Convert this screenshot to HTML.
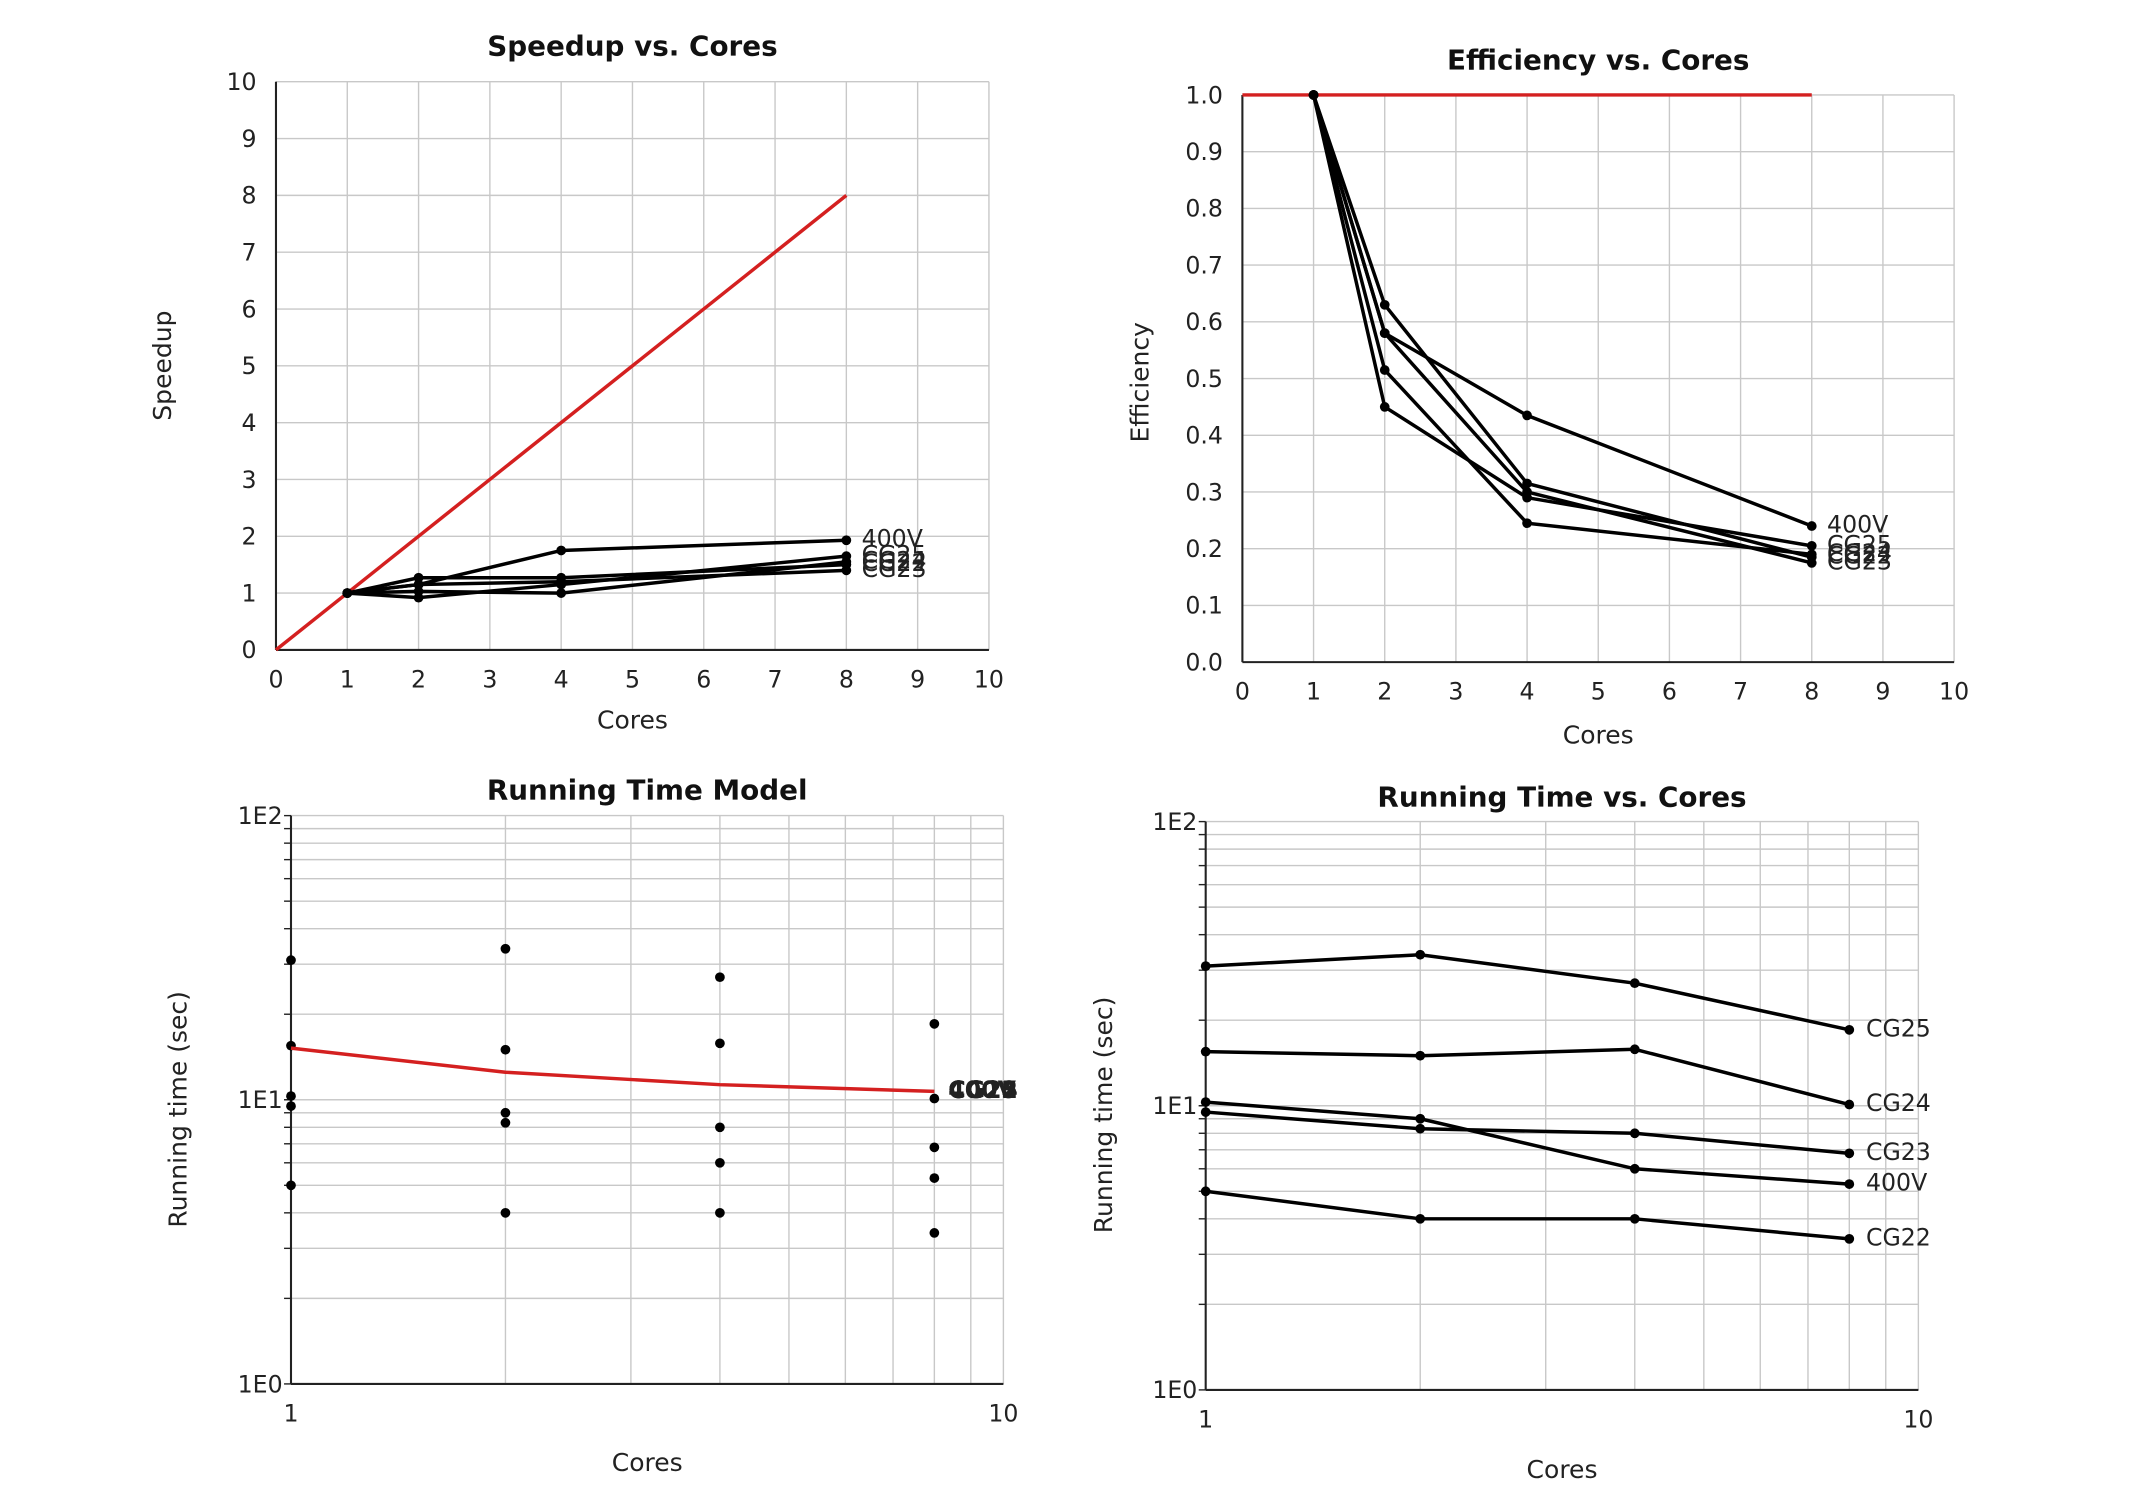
<!DOCTYPE html>
<html><head><meta charset="utf-8"><style>
html,body{margin:0;padding:0;background:#fff;}
svg{display:block;font-family:"DejaVu Sans","Liberation Sans",sans-serif;}
</style></head><body>
<svg id="chart" width="2155" height="1500" viewBox="0 0 1550 1079" preserveAspectRatio="none" xmlns="http://www.w3.org/2000/svg"></svg>
<script>
const cores = [1, 2, 4, 8];
const seriesNames = ["400V", "CG25", "CG24", "CG23", "CG22"];
const speedup400V = [1, 1.15, 1.75, 1.93];
const speedupCG25 = [1, 0.92, 1.15, 1.65];
const speedupCG24 = [1, 1.03, 1.0, 1.55];
const speedupCG23 = [1, 1.15, 1.2, 1.4];
const speedupCG22 = [1, 1.27, 1.27, 1.5];
const ideal = [0, 8];
const eff400V = [1, 0.58, 0.435, 0.24];
const effCG25 = [1, 0.45, 0.29, 0.205];
const effCG24 = [1, 0.515, 0.245, 0.19];
const effCG23 = [1, 0.58, 0.30, 0.175];
const effCG22 = [1, 0.63, 0.315, 0.185];
const time400V = [10.3, 9.0, 6.0, 5.3];
const timeCG25 = [31, 34, 27, 18.5];
const timeCG24 = [15.5, 15.0, 15.8, 10.1];
const timeCG23 = [9.5, 8.3, 8.0, 6.8];
const timeCG22 = [5.0, 4.0, 4.0, 3.4];
const modelTime = [15.2, 12.5, 11.3, 10.7];
const linTicks = [0,1,2,3,4,5,6,7,8,9,10];
const effTicks = ["0.0","0.1","0.2","0.3","0.4","0.5","0.6","0.7","0.8","0.9","1.0"];

const svg = document.getElementById('chart');
const NS = 'http://www.w3.org/2000/svg';
function el(tag, attrs, parent, text){
  const e = document.createElementNS(NS, tag);
  for (const k in attrs) e.setAttribute(k, attrs[k]);
  if (text !== undefined) e.textContent = text;
  (parent || svg).appendChild(e);
  return e;
}
function linScale(d0,d1,r0,r1){return v=>r0+(v-d0)/(d1-d0)*(r1-r0);}
function logScale(d0,d1,r0,r1){return v=>r0+(Math.log10(v)-Math.log10(d0))/(Math.log10(d1)-Math.log10(d0))*(r1-r0);}

function frame(name, x0,x1,y0,y1,title,ty,ylab,ylx,yly,xlabY){
  const g = el('g',{});
  
  
  const t = el('text',{x:(x0+x1)/2,y:ty,'text-anchor':'middle','font-size':20,'font-weight':'bold',fill:'#111'},g,title);
  
  
  const yl = el('text',{x:ylx,y:yly,'text-anchor':'middle','font-size':18,fill:'#222',transform:`rotate(-90 ${ylx} ${yly})`},g,ylab);
  
  
  const xl = el('text',{x:(x0+x1)/2,y:xlabY,'text-anchor':'middle','font-size':18,fill:'#222'},g,'Cores');
  
  
  return g;
}
function gridLine(g,x1,y1,x2,y2){el('line',{x1,y1,x2,y2,stroke:'#c8c8c8','stroke-width':1},g);}
function axes(g,x0,x1,y0,y1){
  el('line',{x1:x0,y1:y0,x2:x0,y2:y1,stroke:'#222','stroke-width':1.5},g);
  el('line',{x1:x0,y1:y0,x2:x1,y2:y0,stroke:'#222','stroke-width':1.5},g);
}
function series(g,name,xs,ys,sx,sy,color,dots){
  const s = el('g',{},g);
  
  
  const pts = xs.map((x,i)=>sx(x)+','+sy(ys[i])).join(' ');
  el('polyline',{points:pts,fill:'none',stroke:color,'stroke-width':2.5},s);
  if (dots) xs.forEach((x,i)=>el('circle',{cx:sx(x),cy:sy(ys[i]),r:3.5,fill:'#000'},s));
}
function label(g,name,x,y,txt){
  const t = el('text',{x,y,'font-size':17,fill:'#222','dominant-baseline':'middle'},g,txt);
  
  
}

// Chart 1
(function(){
  const X0=198.5,X1=711.3,Y0=467.5,Y1=58.8;
  const sx=linScale(0,10,X0,X1), sy=linScale(0,10,Y0,Y1);
  const g=frame('speedup-chart',X0,X1,Y0,Y1,'Speedup vs. Cores',40,'Speedup',123,263,524);
  linTicks.forEach(v=>{
    gridLine(g,sx(v),Y0,sx(v),Y1); gridLine(g,X0,sy(v),X1,sy(v));
    el('text',{x:sx(v),y:Y0+27,'text-anchor':'middle','font-size':17,fill:'#222'},g,v);
    el('text',{x:X0-14,y:sy(v)+6,'text-anchor':'end','font-size':17,fill:'#222'},g,v);
  });
  axes(g,X0,X1,Y0,Y1);
  series(g,'ideal-speedup-line',ideal,ideal,sx,sy,'#d42020',false);
  const data=[speedup400V,speedupCG25,speedupCG24,speedupCG23,speedupCG22];
  data.forEach((d,i)=>series(g,'speedup-'+seriesNames[i],cores,d,sx,sy,'#000',true));
  data.forEach((d,i)=>label(g,'speedup-label-'+seriesNames[i],sx(8)+11,sy(d[3]),seriesNames[i]));
})();

// Chart 2
(function(){
  const X0=893.6,X1=1405.5,Y0=476.3,Y1=68.3;
  const sx=linScale(0,10,X0,X1), sy=linScale(0,1,Y0,Y1);
  const g=frame('efficiency-chart',X0,X1,Y0,Y1,'Efficiency vs. Cores',50,'Efficiency',826,275,535);
  linTicks.forEach(v=>{
    gridLine(g,sx(v),Y0,sx(v),Y1); gridLine(g,X0,sy(v/10),X1,sy(v/10));
    el('text',{x:sx(v),y:Y0+27,'text-anchor':'middle','font-size':17,fill:'#222'},g,v);
  });
  effTicks.forEach(t=>el('text',{x:X0-14,y:sy(parseFloat(t))+6,'text-anchor':'end','font-size':17,fill:'#222'},g,t));
  axes(g,X0,X1,Y0,Y1);
  series(g,'ideal-efficiency-line',ideal,[1,1],sx,sy,'#d42020',false);
  const data=[eff400V,effCG25,effCG24,effCG23,effCG22];
  data.forEach((d,i)=>series(g,'efficiency-'+seriesNames[i],cores,d,sx,sy,'#000',true));
  data.forEach((d,i)=>label(g,'efficiency-label-'+seriesNames[i],sx(8)+11,sy(d[3]),seriesNames[i]));
})();

function logFrame(g,X0,X1,Y0,Y1,sx,sy){
  for(let d=1;d<=10;d++) gridLine(g,sx(d),Y0,sx(d),Y1);
  [1,10].forEach(p=>{for(let m=1;m<=10;m++){const v=p*m; if(v<=100){gridLine(g,X0,sy(v),X1,sy(v)); el('line',{x1:X0-5,y1:sy(v),x2:X0,y2:sy(v),stroke:'#222'},g);}}});
  el('text',{x:sx(1),y:Y0+27,'text-anchor':'middle','font-size':17,fill:'#222'},g,'1');
  el('text',{x:sx(10),y:Y0+27,'text-anchor':'middle','font-size':17,fill:'#222'},g,'10');
  [['1E0',1],['1E1',10],['1E2',100]].forEach(([t,v])=>el('text',{x:X0-6,y:sy(v)+6,'text-anchor':'end','font-size':17,fill:'#222'},g,t));
  axes(g,X0,X1,Y0,Y1);
}
const times=[timeCG25,timeCG24,timeCG23,time400V,timeCG22];
const timeNames=["CG25","CG24","CG23","400V","CG22"];

// Chart 3
(function(){
  const X0=209.3,X1=721.7,Y0=995.5,Y1=586.7;
  const sx=logScale(1,10,X0,X1), sy=logScale(1,100,Y0,Y1);
  const g=frame('running-time-model-chart',X0,X1,Y0,Y1,'Running Time Model',575,'Running time (sec)',134,798,1058);
  logFrame(g,X0,X1,Y0,Y1,sx,sy);
  times.forEach((d,i)=>{
    const s=el('g',{},g);
    
    
    cores.forEach((c,j)=>el('circle',{cx:sx(c),cy:sy(d[j]),r:3.5,fill:'#000'},s));
  });
  series(g,'model-line',cores,modelTime,sx,sy,'#d42020',false);
  timeNames.forEach(n=>{
    const t=el('text',{x:sx(8)+10,y:sy(modelTime[3]),'font-size':17,'font-weight':'bold',fill:'#222','dominant-baseline':'middle'},g,n);
    
    
  });
})();

// Chart 4
(function(){
  const X0=867.2,X1=1379.8,Y0=999.8,Y1=591;
  const sx=logScale(1,10,X0,X1), sy=logScale(1,100,Y0,Y1);
  const g=frame('running-time-chart',X0,X1,Y0,Y1,'Running Time vs. Cores',580,'Running time (sec)',800,802,1063);
  logFrame(g,X0,X1,Y0,Y1,sx,sy);
  times.forEach((d,i)=>series(g,'time-'+timeNames[i],cores,d,sx,sy,'#000',true));
  times.forEach((d,i)=>label(g,'time-label-'+timeNames[i],sx(8)+12,sy(d[3]),timeNames[i]));
})();
</script>
</body></html>
